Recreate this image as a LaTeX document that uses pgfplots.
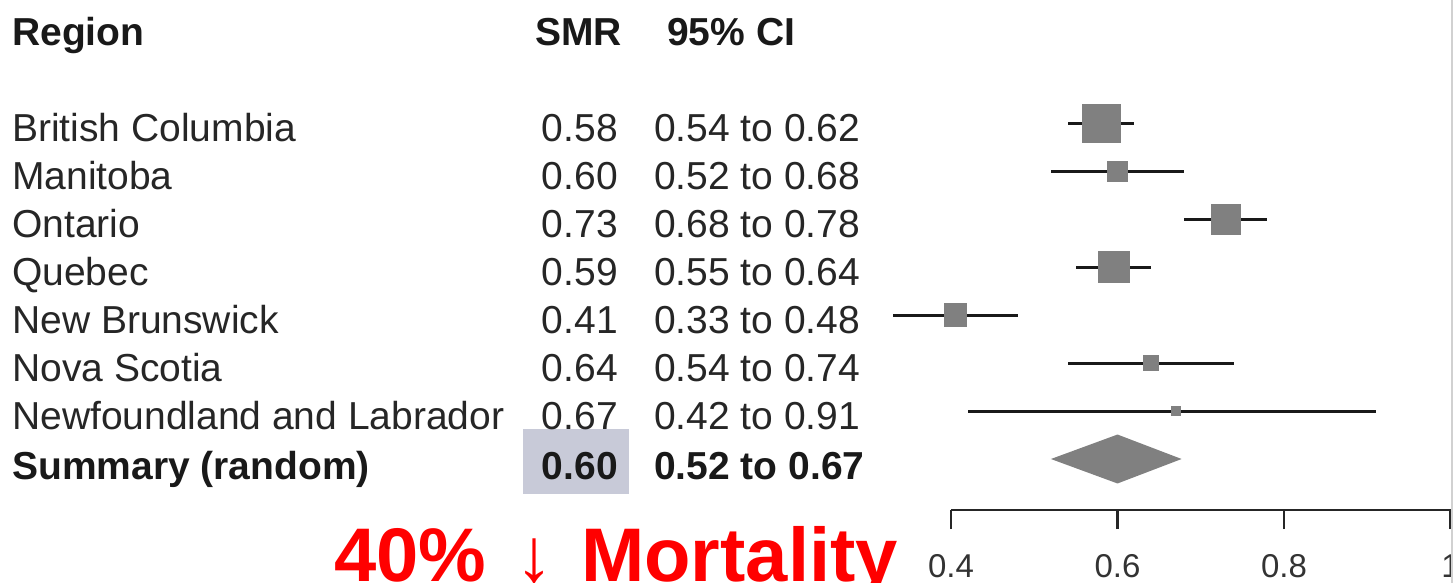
\documentclass[border=0pt]{standalone}
\usepackage{pgfplots}
\pgfplotsset{compat=1.18}
\usepackage{pgfplotstable}
\usepackage{fontspec}
\setmainfont{Liberation Sans}

\definecolor{mkgray}{RGB}{128,128,128}
\definecolor{hl}{RGB}{200,202,216}
\definecolor{txt}{RGB}{38,38,38}

\newcommand{\rf}{\fontsize{39bp}{46bp}\selectfont}

% rows: y position (8 = top), SMR, lower CI, upper CI, half side of square
\pgfplotstableread{
y smr lo hi s
8 0.580 0.54 0.62 19
7 0.600 0.52 0.68 10
6 0.730 0.68 0.78 15
5 0.595 0.55 0.64 15.5
4 0.405 0.33 0.48 11.5
3 0.640 0.54 0.74 7.5
2 0.670 0.42 0.91 4.5
}\rows

\begin{document}
\begin{tikzpicture}
\begin{axis}[
  at={(951bp,-510bp)}, anchor=south west,
  scale only axis, width=499.5bp, height=510bp,
  xmin=0.4, xmax=1.0, ymin=-0.0625, ymax=10.5625,
  axis x line*=bottom, axis y line=none, ytick=\empty,
  xtick={0.4,0.6,0.8,1},
  tick align=outside, major tick length=19bp,
  x axis line style={line width=2.5bp, color=black!85},
  xtick style={line width=2.5bp, color=black!85},
  /pgf/number format/assume math mode=true,
  xticklabel style={font=\fontsize{33bp}{38bp}\selectfont, text=black!80, yshift=-22bp},
  clip=false,
]
% confidence intervals
\addplot[only marks, mark=none, forget plot, line width=3bp,
  error bars/.cd, x dir=both, x explicit, error mark=none,
  error bar style={line width=3bp, draw=black!90}]
  table[x=smr, y=y,
        x error plus expr=\thisrow{hi}-\thisrow{smr},
        x error minus expr=\thisrow{smr}-\thisrow{lo}] {\rows};
% point estimates
\addplot[scatter, only marks, mark=square*,
  scatter/use mapped color={draw=mkgray, fill=mkgray},
  visualization depends on={\thisrow{s} \as \msize},
  scatter/@pre marker code/.append style={/tikz/mark size=\msize, /tikz/line width=0pt}]
  table[x=smr, y=y] {\rows};
% summary diamond
\addplot[fill=mkgray, draw=none] coordinates {
  (0.52,1) (0.60,0.49) (0.677,1) (0.60,1.51) (0.52,1)};
\end{axis}

% highlight of summary SMR
\fill[hl] (523bp,-429bp) rectangle (629bp,-494bp);

% header
\begin{scope}[every node/.style={inner sep=0pt, text=black!90, font=\rf\bfseries}]
\node[anchor=base west] at (12bp,-45bp) {Region};
\node[anchor=base east] at (622bp,-45bp) {SMR};
\node[anchor=base west] at (667bp,-45bp) {95\% CI};
\end{scope}

% rows
\begin{scope}[every node/.style={inner sep=0pt, text=txt, font=\rf}]
\node[anchor=base west] at (12bp,-141.5bp) {British Columbia};
\node[anchor=base east] at (618bp,-141.5bp) {0.58};
\node[anchor=base west] at (654bp,-141.5bp) {0.54 to 0.62};

\node[anchor=base west] at (12bp,-189.5bp) {Manitoba};
\node[anchor=base east] at (618bp,-189.5bp) {0.60};
\node[anchor=base west] at (654bp,-189.5bp) {0.52 to 0.68};

\node[anchor=base west] at (12bp,-237.5bp) {Ontario};
\node[anchor=base east] at (618bp,-237.5bp) {0.73};
\node[anchor=base west] at (654bp,-237.5bp) {0.68 to 0.78};

\node[anchor=base west] at (12bp,-285.5bp) {Quebec};
\node[anchor=base east] at (618bp,-285.5bp) {0.59};
\node[anchor=base west] at (654bp,-285.5bp) {0.55 to 0.64};

\node[anchor=base west] at (12bp,-333.5bp) {New Brunswick};
\node[anchor=base east] at (618bp,-333.5bp) {0.41};
\node[anchor=base west] at (654bp,-333.5bp) {0.33 to 0.48};

\node[anchor=base west] at (12bp,-381.5bp) {Nova Scotia};
\node[anchor=base east] at (618bp,-381.5bp) {0.64};
\node[anchor=base west] at (654bp,-381.5bp) {0.54 to 0.74};

\node[anchor=base west] at (12bp,-429.5bp) {Newfoundland and Labrador};
\node[anchor=base east] at (618bp,-429.5bp) {0.67};
\node[anchor=base west] at (654bp,-429.5bp) {0.42 to 0.91};
\end{scope}

\begin{scope}[every node/.style={inner sep=0pt, text=black!90, font=\rf\bfseries}]
\node[anchor=base west] at (12bp,-479bp) {Summary (random)};
\node[anchor=base east] at (618bp,-479bp) {0.60};
\node[anchor=base west] at (654bp,-479bp) {0.52 to 0.67};
\end{scope}

% red annotation
\begin{scope}[every node/.style={inner sep=0pt, text=red, font=\fontsize{76bp}{80bp}\selectfont\bfseries}]
\node[anchor=base west] at (334bp,-581bp) {40\%};
\node[anchor=base] at (534bp,-581bp) {\fontsize{76bp}{76bp}\selectfont\mdseries ↓};
\node[anchor=base west] at (581bp,-581bp) {Mortality};
\end{scope}

% right border
\draw[black!18, line width=2bp] (1451.5bp,0) -- (1451.5bp,-583bp);

\pgfresetboundingbox
\path[use as bounding box] (0,0) rectangle (1453bp,-583bp);
\end{tikzpicture}
\end{document}
